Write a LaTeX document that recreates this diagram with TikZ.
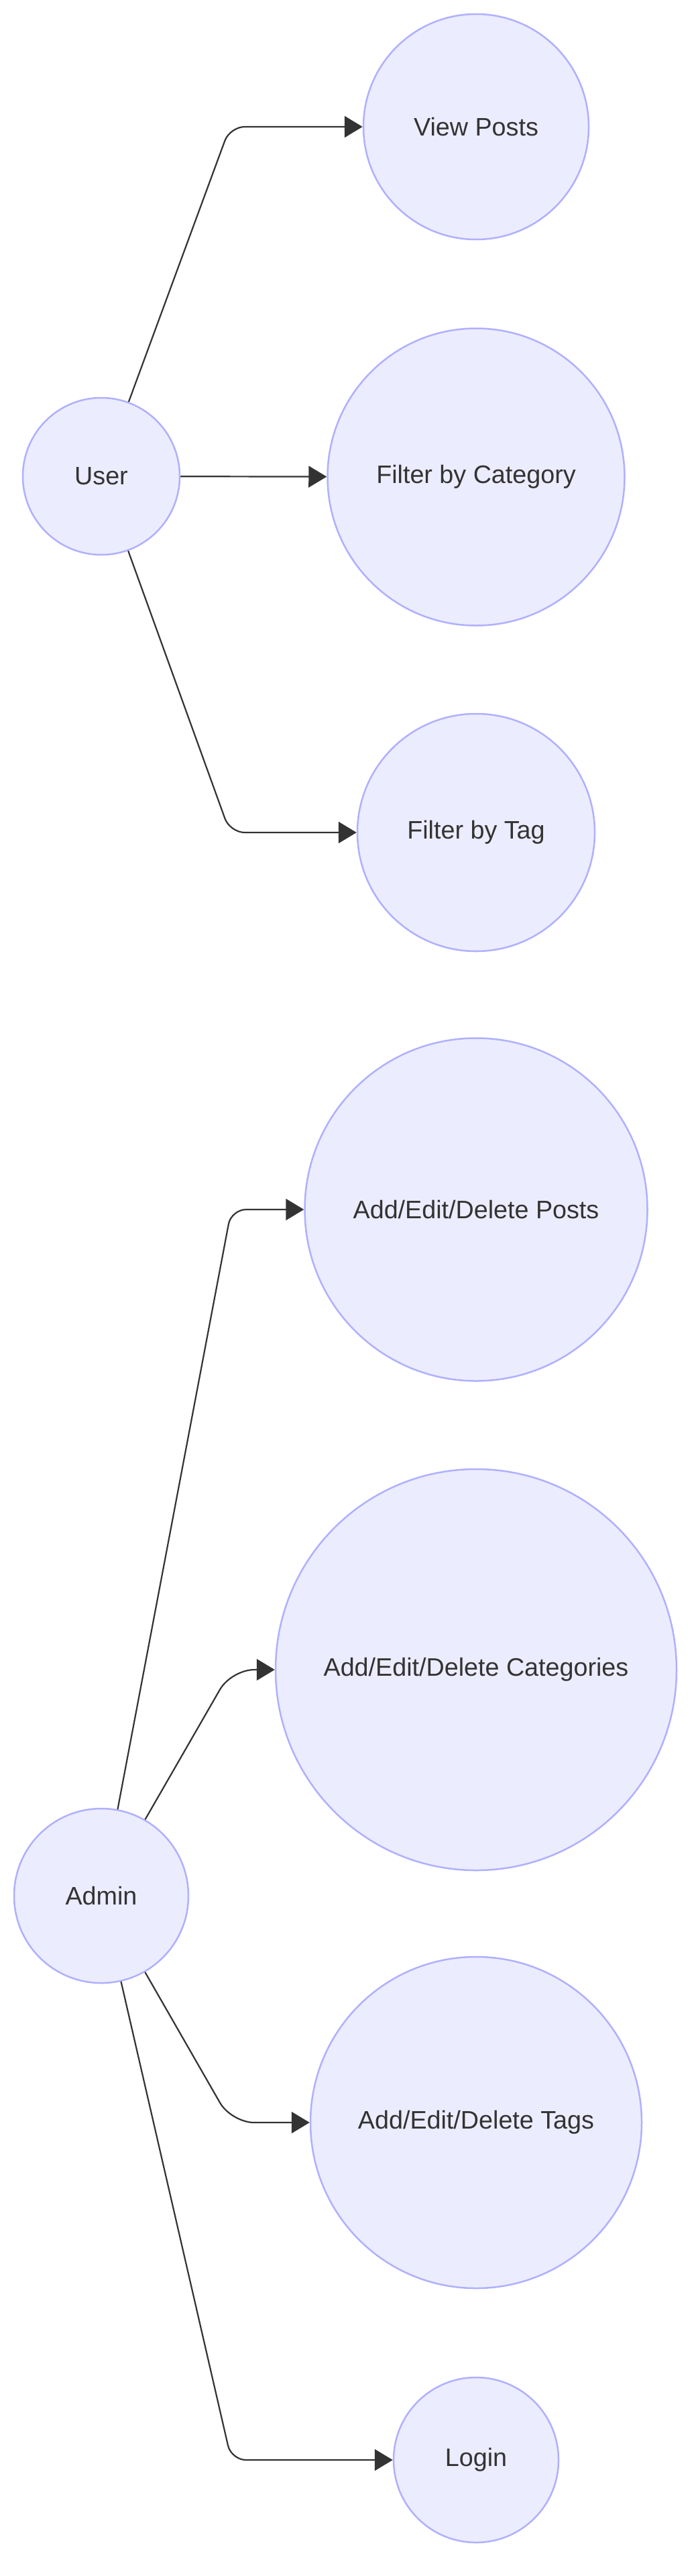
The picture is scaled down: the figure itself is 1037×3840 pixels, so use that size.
\documentclass[tikz,border=0pt]{standalone}
\usepackage{fontspec}
\setmainfont{Liberation Sans}
\usepackage{tikz}
\usetikzlibrary{calc,arrows.meta}

\definecolor{nodefill}{HTML}{ECECFF}
\definecolor{nodeline}{HTML}{B0B0FF}
\definecolor{inkgray}{HTML}{333333}

\begin{document}
\begin{tikzpicture}[x=1pt,y=-1pt,
    usecase/.style={circle,draw=nodeline,fill=nodefill,line width=2.5pt,inner sep=0pt,
        text=inkgray,font=\fontsize{37.7}{45}\selectfont},
    link/.style={draw=inkgray,line width=2.2pt,rounded corners=22pt,
        -{Triangle[length=27pt,width=32pt]}}]%

                                \useasboundingbox (0,0) rectangle (1037,3840);

                                % user side
                                \node [usecase,minimum size=234pt] (user) at (151,710) {User};
                                \node [usecase,minimum size=336pt] (view) at (710,189) {View Posts};
                                \node [usecase,minimum size=443pt] (fcat) at (710,711) {Filter by Category};
                                \node [usecase,minimum size=354pt] (ftag) at (710,1241) {Filter by Tag};

                                \coordinate (u1) at (343,189);
                                \coordinate (u3) at (343,1241);
                                \draw [link] (user) -- (u1) -- (view);
                                \draw [link] (user) -- (fcat);
                                \draw [link] (user) -- (u3) -- (ftag);

                                % admin side
                                \node [usecase,minimum size=260pt] (admin) at (151,2826) {Admin};
                                \node [usecase,minimum size=511pt] (aposts) at (710,1803) {Add/Edit/Delete Posts};
                                \node [usecase,minimum size=598pt] (acats) at (710,2489) {Add/Edit/Delete Categories};
                                \node [usecase,minimum size=494pt] (atags) at (710,3164) {Add/Edit/Delete Tags};
                                \node [usecase,minimum size=246pt] (login) at (710,3667) {Login};

                                \coordinate (a1) at (345,1803);
                                \coordinate (a2) at (345,2489);
                                \coordinate (a3) at (345,3164);
                                \coordinate (a4) at (345,3667);
                                \draw [link] (admin) -- (a1) -- (aposts);
                                \draw [link,rounded corners=34pt] (admin) -- (a2) -- (acats);
                                \draw [link,rounded corners=34pt] (admin) -- (a3) -- (atags);
                                \draw [link] (admin) -- (a4) -- (login);
                            \end{tikzpicture}
\end{document}
